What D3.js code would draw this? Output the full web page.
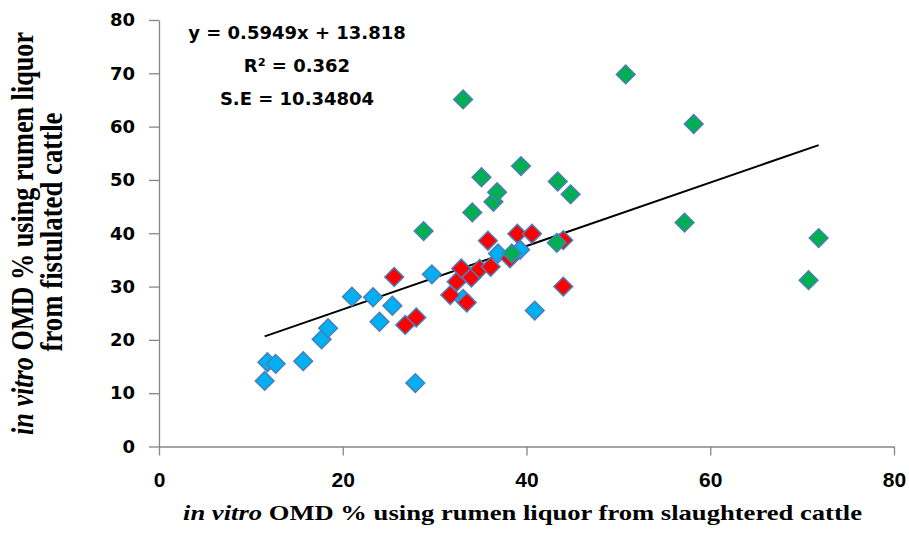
<!DOCTYPE html>
<html>
<head>
<meta charset="utf-8">
<script src="https://d3js.org/d3.v7.min.js"></script>
<style>
  body { margin: 0; background: white; }
  .axis path, .axis line { stroke: #868686; stroke-width: 1.3; }
</style>
</head>
<body>
<svg width="909" height="535"></svg>
<script>
// tick labels
var xTickValues = [0, 20, 40, 60, 80];
var yTickValues = [0, 10, 20, 30, 40, 50, 60, 70, 80];

// [slaughtered, fistulated] pairs
var blueSeries = [[11.5,12.3],[11.8,15.8],[12.7,15.5],[15.7,16.0],[17.7,20.1],[18.4,22.2],
  [21.0,28.1],[23.3,28.0],[24.0,23.4],[25.4,26.4],[27.9,11.9],[29.7,32.3],[33.1,27.7],
  [36.9,36.2],[39.3,36.9],[40.9,25.5]];
var redSeries = [[25.6,31.8],[26.8,22.8],[28.0,24.2],[31.7,28.4],[32.4,30.9],[32.9,33.4],
  [33.5,27.0],[34.0,31.7],[34.9,33.3],[36.1,33.7],[35.8,38.6],[38.2,35.3],[39.0,39.9],
  [40.6,39.9],[44.0,38.7],[44.0,30.0]];
var greenSeries = [[28.8,40.4],[33.1,65.1],[34.1,43.9],[35.1,50.5],[36.4,45.9],[36.8,47.7],
  [38.4,36.2],[39.4,52.6],[43.3,38.2],[43.4,49.7],[44.8,47.3],[50.8,69.8],[57.2,42.0],
  [58.2,60.5],[70.7,31.2],[71.8,39.1]];

// trendline from the equation shown on the chart
var slope = 0.5949, intercept = 13.818;
var statLines = ["y = 0.5949x + 13.818", "R\u00B2 = 0.362", "S.E = 10.34804"];

var svg = d3.select("svg");
var plotLeft = 159, plotRight = 894, plotTop = 20, plotBottom = 446.5;

var xs = d3.scaleLinear().domain([0, 80]).range([plotLeft, plotRight]);
var ys = d3.scaleLinear().domain([0, 80]).range([plotBottom, plotTop]);

// axes
svg.append("g").attr("class", "axis")
  .attr("transform", "translate(0," + plotBottom + ")")
  .call(d3.axisBottom(xs).tickValues(xTickValues).tickSize(9).tickSizeOuter(0).tickPadding(17))
  .selectAll("text")
  .attr("fill", "black")
  .style("font-family", "'Liberation Sans', sans-serif")
  .style("font-weight", "bold")
  .style("font-size", "21px");

svg.append("g").attr("class", "axis")
  .attr("transform", "translate(" + plotLeft + ",0)")
  .call(d3.axisLeft(ys).tickValues(yTickValues).tickSize(10).tickSizeOuter(0).tickPadding(14))
  .selectAll("text")
  .attr("fill", "black")
  .style("font-family", "'DejaVu Sans', sans-serif")
  .style("font-weight", "bold")
  .style("font-size", "18px");

// trendline
var allX = blueSeries.concat(redSeries, greenSeries).map(function(d) { return d[0]; });
var ext = d3.extent(allX);
svg.append("line")
  .attr("x1", xs(ext[0])).attr("y1", ys(slope * ext[0] + intercept))
  .attr("x2", xs(ext[1])).attr("y2", ys(slope * ext[1] + intercept))
  .attr("stroke", "black")
  .attr("stroke-width", 2);

// markers
var diamond = d3.symbol().type(d3.symbolSquare).size(175);
function drawSeries(data, fill) {
  svg.append("g").selectAll("path").data(data).enter().append("path")
    .attr("d", diamond)
    .attr("transform", function(d) { return "translate(" + xs(d[0]) + "," + ys(d[1]) + ") rotate(45)"; })
    .attr("fill", fill)
    .attr("stroke", "#4A7EBB")
    .attr("stroke-width", 1.5);
}
drawSeries(blueSeries, "#00B0F0");
drawSeries(redSeries, "#FF0000");
drawSeries(greenSeries, "#00B050");

// equation box
svg.append("g").selectAll("text").data(statLines).enter().append("text")
  .attr("x", 297)
  .attr("y", function(d, i) { return 38.5 + i * 33; })
  .attr("text-anchor", "middle")
  .style("font-family", "'DejaVu Sans', sans-serif")
  .style("font-weight", "bold")
  .style("font-size", "18px")
  .text(function(d) { return d; });

// x axis title
var xt = svg.append("text")
  .attr("x", 522.5).attr("y", 520)
  .attr("text-anchor", "middle")
  .attr("textLength", 679).attr("lengthAdjust", "spacingAndGlyphs")
  .style("font-family", "'Liberation Serif', serif")
  .style("font-weight", "bold")
  .style("font-size", "22px");
xt.append("tspan").style("font-style", "italic").text("in vitro");
xt.append("tspan").text(" OMD % using rumen liquor  from slaughtered cattle");

// y axis title, two lines, stretched sideways like the original
var yt1 = svg.append("text")
  .attr("transform", "translate(33,233.5) scale(1.4,1) rotate(-90)")
  .attr("text-anchor", "middle")
  .attr("textLength", 403).attr("lengthAdjust", "spacingAndGlyphs")
  .style("font-family", "'Liberation Serif', serif")
  .style("font-weight", "bold")
  .style("font-size", "22px");
yt1.append("tspan").style("font-style", "italic").text("in vitro");
yt1.append("tspan").text(" OMD % using rumen liquor");

svg.append("text")
  .attr("transform", "translate(62,232) scale(1.4,1) rotate(-90)")
  .attr("text-anchor", "middle")
  .attr("textLength", 239).attr("lengthAdjust", "spacingAndGlyphs")
  .style("font-family", "'Liberation Serif', serif")
  .style("font-weight", "bold")
  .style("font-size", "22px")
  .text("from fistulated cattle");
</script>
</body>
</html>
